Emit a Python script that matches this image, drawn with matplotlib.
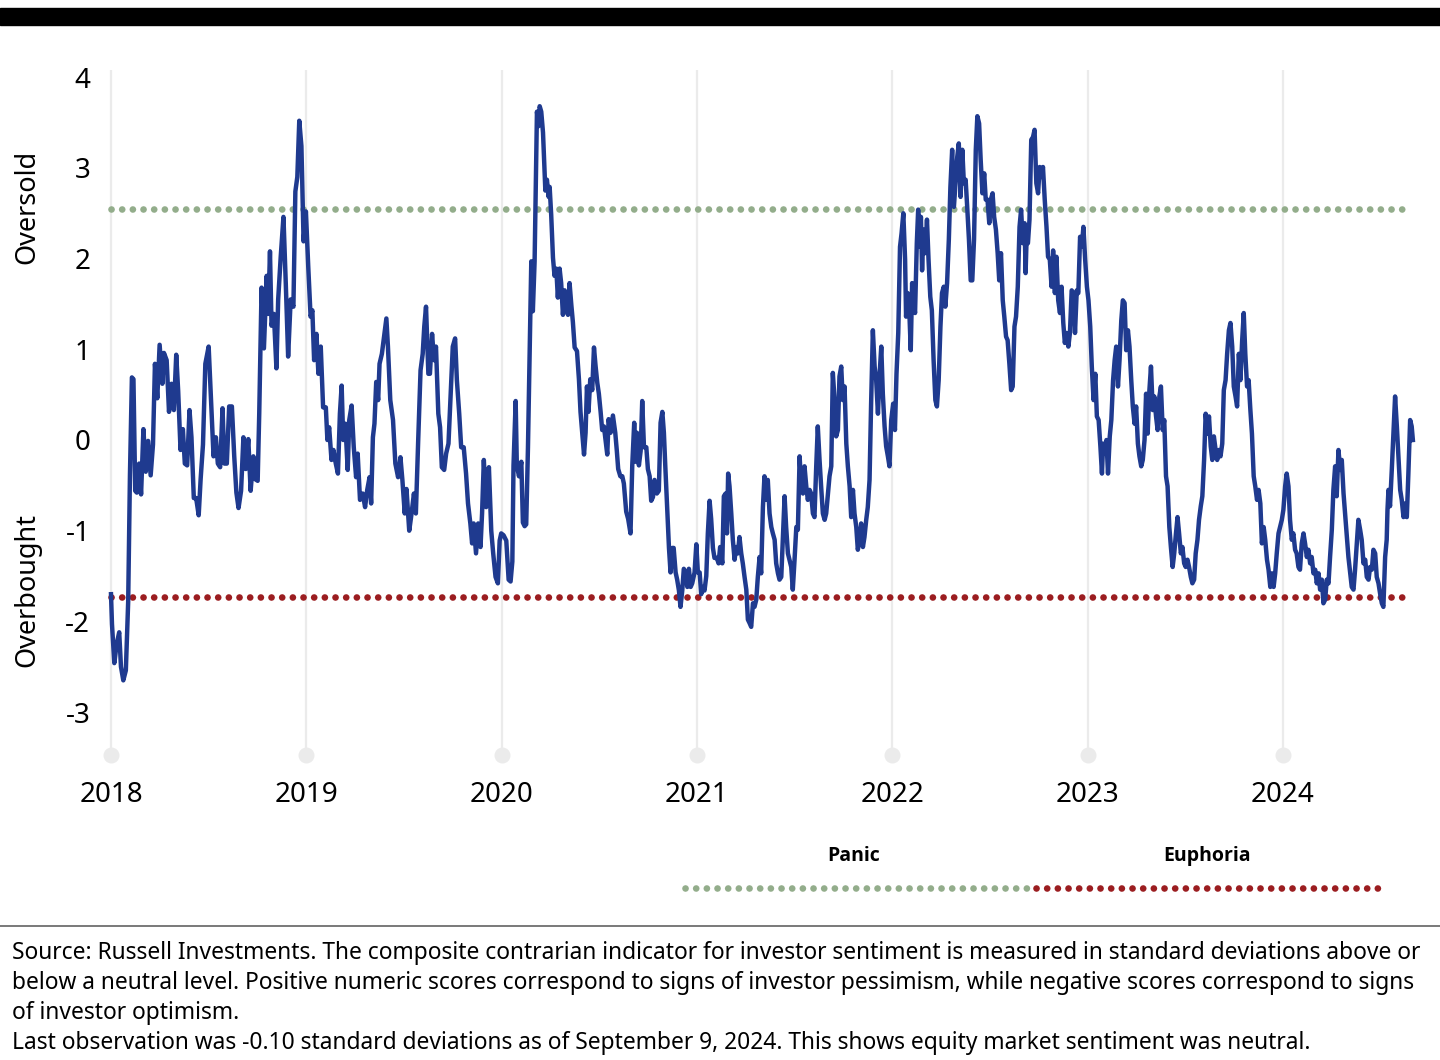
import numpy as np
import matplotlib
matplotlib.use("Agg")
import matplotlib.pyplot as plt
from matplotlib.lines import Line2D
from matplotlib.patches import Rectangle

plt.rcParams['font.family'] = ['Noto Sans', 'DejaVu Sans']

# Composite contrarian indicator as (fraction of year, score)
s2018 = [(0.000, -1.70), (0.005, -2.03), (0.017, -2.46), (0.029, -2.25), (0.042, -2.12), (0.051, -2.50),
         (0.063, -2.65), (0.076, -2.54), (0.088, -1.78), (0.097, -0.39), (0.107, 0.69), (0.115, 0.67),
         (0.124, -0.56), (0.132, -0.58), (0.144, -0.26), (0.154, -0.60), (0.166, 0.12), (0.178, -0.35),
         (0.190, -0.01), (0.203, -0.39), (0.215, -0.05), (0.225, 0.84), (0.237, 0.46), (0.249, 1.05),
         (0.263, 0.62), (0.271, 0.96), (0.285, 0.88), (0.297, 0.31), (0.310, 0.62), (0.322, 0.33),
         (0.334, 0.94), (0.344, 0.54), (0.356, -0.11), (0.368, 0.12), (0.378, -0.26), (0.390, -0.28),
         (0.402, 0.33), (0.412, 0.03), (0.424, -0.64), (0.436, -0.64), (0.449, -0.83), (0.459, -0.43),
         (0.471, -0.05), (0.483, 0.84), (0.500, 1.03), (0.512, 0.46), (0.525, -0.18), (0.537, 0.03),
         (0.547, -0.26), (0.559, -0.30), (0.571, 0.35), (0.581, -0.26), (0.593, -0.26), (0.605, 0.37),
         (0.619, 0.37), (0.631, -0.18), (0.642, -0.58), (0.653, -0.75), (0.666, -0.56), (0.678, 0.03),
         (0.690, -0.32), (0.703, 0.01), (0.715, -0.56), (0.729, -0.18), (0.737, -0.43), (0.751, -0.45),
         (0.759, 0.29), (0.771, 1.68), (0.783, 1.01), (0.797, 1.81), (0.805, 1.39), (0.814, 2.08),
         (0.822, 1.26), (0.834, 1.39), (0.847, 0.79), (0.856, 1.55), (0.869, 2.02), (0.883, 2.46),
         (0.895, 1.72), (0.907, 0.92), (0.920, 1.55), (0.934, 1.47), (0.944, 2.74), (0.954, 2.90),
         (0.964, 3.52), (0.975, 3.24), (0.986, 2.19), (0.998, 2.52)]

s2019 = [(0.010, 1.91), (0.022, 1.36), (0.031, 1.43), (0.040, 0.88), (0.052, 1.17), (0.062, 0.73),
         (0.074, 1.03), (0.086, 0.36), (0.100, 0.36), (0.108, 0.00), (0.117, 0.14), (0.129, -0.22),
         (0.139, -0.11), (0.151, -0.26), (0.162, -0.37), (0.172, 0.29), (0.181, 0.60), (0.189, 0.00),
         (0.200, 0.18), (0.212, -0.33), (0.220, 0.22), (0.232, 0.38), (0.243, -0.08), (0.255, -0.41),
         (0.263, -0.15), (0.275, -0.66), (0.289, -0.59), (0.301, -0.74), (0.312, -0.55), (0.324, -0.41),
         (0.332, -0.70), (0.341, 0.03), (0.349, 0.18), (0.358, 0.64), (0.368, 0.44), (0.375, 0.84),
         (0.387, 0.95), (0.398, 1.14), (0.410, 1.34), (0.418, 1.03), (0.430, 0.44), (0.444, 0.22),
         (0.456, -0.26), (0.470, -0.41), (0.482, -0.19), (0.492, -0.44), (0.504, -0.81), (0.513, -0.54),
         (0.527, -1.00), (0.539, -0.81), (0.551, -0.59), (0.561, -0.81), (0.573, 0.00), (0.585, 0.77),
         (0.596, 0.95), (0.604, 1.25), (0.613, 1.47), (0.625, 0.73), (0.633, 0.73), (0.644, 1.17),
         (0.654, 0.88), (0.664, 1.03), (0.676, 0.29), (0.685, 0.14), (0.694, -0.30), (0.706, -0.33),
         (0.716, -0.15), (0.728, -0.04), (0.740, 0.55), (0.750, 1.03), (0.762, 1.12), (0.771, 0.66),
         (0.783, 0.29), (0.793, -0.08), (0.806, -0.08), (0.818, -0.37), (0.828, -0.70), (0.840, -0.92),
         (0.849, -1.14), (0.857, -0.92), (0.869, -1.25), (0.880, -0.92), (0.892, -1.18), (0.900, -0.81),
         (0.909, -0.22), (0.921, -0.74), (0.935, -0.30), (0.947, -1.00), (0.957, -1.25), (0.969, -1.51),
         (0.981, -1.58), (0.990, -1.11), (0.998, -1.03)]

s2020 = [(0.010, -1.05), (0.024, -1.11), (0.036, -1.54), (0.046, -1.56), (0.055, -1.34), (0.061, -0.28),
         (0.072, 0.43), (0.078, -0.28), (0.089, -0.40), (0.101, -0.24), (0.109, -0.91), (0.118, -0.95),
         (0.126, -0.93), (0.135, -0.08), (0.143, 0.90), (0.152, 1.97), (0.160, 1.42), (0.169, 1.97),
         (0.174, 2.68), (0.181, 3.62), (0.189, 3.46), (0.195, 3.68), (0.203, 3.62), (0.212, 3.39),
         (0.218, 3.07), (0.224, 2.75), (0.232, 2.87), (0.241, 2.68), (0.246, 2.79), (0.254, 2.48),
         (0.263, 2.01), (0.271, 1.81), (0.280, 1.89), (0.288, 1.57), (0.297, 1.89), (0.305, 1.73),
         (0.314, 1.38), (0.323, 1.65), (0.331, 1.49), (0.340, 1.38), (0.348, 1.73), (0.357, 1.49),
         (0.365, 1.30), (0.374, 1.02), (0.386, 0.98), (0.396, 0.67), (0.404, 0.31), (0.413, 0.08),
         (0.422, -0.16), (0.430, 0.08), (0.437, 0.59), (0.445, 0.31), (0.454, 0.67), (0.464, 0.55),
         (0.473, 1.02), (0.481, 0.82), (0.490, 0.63), (0.498, 0.51), (0.507, 0.31), (0.515, 0.11),
         (0.524, 0.15), (0.532, 0.00), (0.541, -0.16), (0.548, 0.23), (0.558, 0.08), (0.570, 0.27),
         (0.582, 0.08), (0.590, -0.12), (0.597, -0.32), (0.608, -0.40), (0.618, -0.40), (0.626, -0.48),
         (0.638, -0.79), (0.648, -0.87), (0.660, -1.03), (0.669, -0.28), (0.679, 0.19), (0.686, -0.24),
         (0.693, 0.08), (0.703, -0.28), (0.712, -0.12), (0.720, 0.43), (0.729, -0.08), (0.741, -0.08),
         (0.749, -0.32), (0.758, -0.40), (0.766, -0.67), (0.775, -0.63), (0.783, -0.44), (0.795, -0.59),
         (0.805, -0.56), (0.814, 0.19), (0.823, 0.31), (0.831, 0.08), (0.838, -0.28), (0.848, -0.75),
         (0.857, -1.19), (0.865, -1.46), (0.874, -1.19), (0.881, -1.19), (0.891, -1.46), (0.899, -1.54),
         (0.908, -1.66), (0.916, -1.84), (0.925, -1.66), (0.933, -1.42), (0.942, -1.46), (0.951, -1.62),
         (0.959, -1.42), (0.968, -1.62), (0.976, -1.58), (0.988, -1.46), (0.997, -1.15)]

s2021 = [(0.005, -1.46), (0.014, -1.46), (0.022, -1.70), (0.031, -1.62), (0.039, -1.66), (0.048, -1.50),
         (0.056, -1.03), (0.065, -0.67), (0.073, -0.87), (0.082, -1.19), (0.090, -1.30), (0.102, -1.30),
         (0.111, -1.36), (0.119, -1.18), (0.130, -1.36), (0.138, -0.62), (0.147, -0.59), (0.154, -1.03),
         (0.160, -0.37), (0.167, -0.51), (0.176, -0.81), (0.184, -1.10), (0.193, -1.32), (0.201, -1.18),
         (0.210, -1.25), (0.218, -1.07), (0.227, -1.25), (0.235, -1.36), (0.244, -1.51), (0.253, -1.65),
         (0.261, -1.98), (0.270, -2.02), (0.278, -2.06), (0.287, -1.80), (0.295, -1.84), (0.304, -1.76),
         (0.312, -1.51), (0.321, -1.29), (0.329, -1.47), (0.338, -0.74), (0.346, -0.40), (0.355, -0.66),
         (0.363, -0.44), (0.372, -0.81), (0.381, -0.96), (0.389, -1.03), (0.398, -1.10), (0.406, -1.36),
         (0.415, -1.47), (0.423, -1.54), (0.432, -1.51), (0.440, -1.10), (0.449, -0.62), (0.457, -0.96),
         (0.466, -1.25), (0.474, -1.32), (0.483, -1.40), (0.491, -1.65), (0.500, -1.32), (0.509, -0.96),
         (0.517, -0.99), (0.526, -0.18), (0.534, -0.51), (0.543, -0.59), (0.551, -0.29), (0.560, -0.51),
         (0.568, -0.66), (0.577, -0.55), (0.585, -0.59), (0.594, -0.81), (0.602, -0.85), (0.611, -0.29),
         (0.619, 0.15), (0.628, -0.22), (0.636, -0.51), (0.645, -0.81), (0.654, -0.88), (0.662, -0.81),
         (0.671, -0.59), (0.679, -0.40), (0.688, -0.29), (0.696, 0.74), (0.705, 0.44), (0.713, 0.04),
         (0.722, 0.11), (0.730, 0.70), (0.739, 0.81), (0.747, 0.44), (0.756, 0.59), (0.765, -0.04),
         (0.773, -0.29), (0.782, -0.51), (0.790, -0.85), (0.799, -0.55), (0.807, -0.81), (0.816, -0.96),
         (0.824, -1.21), (0.833, -1.10), (0.841, -0.92), (0.850, -1.18), (0.858, -1.07), (0.867, -0.88),
         (0.875, -0.74), (0.884, -0.44), (0.892, 0.40), (0.901, 1.21), (0.910, 0.81), (0.918, 0.66),
         (0.927, 0.29), (0.935, 0.70), (0.944, 1.03), (0.952, 0.51), (0.961, 0.15), (0.969, -0.07),
         (0.978, -0.18), (0.986, -0.29), (0.995, 0.22)]

s2022 = [(0.005, 0.40), (0.014, 0.11), (0.022, 0.73), (0.031, 1.18), (0.040, 2.13), (0.048, 2.28),
         (0.057, 2.50), (0.066, 1.99), (0.071, 1.36), (0.079, 1.62), (0.088, 1.40), (0.095, 0.99),
         (0.102, 1.73), (0.109, 1.54), (0.117, 1.40), (0.126, 2.17), (0.133, 2.54), (0.140, 2.13),
         (0.147, 2.46), (0.153, 1.87), (0.160, 2.32), (0.169, 2.06), (0.178, 2.43), (0.186, 1.99),
         (0.195, 1.58), (0.203, 1.43), (0.212, 0.88), (0.221, 0.44), (0.229, 0.37), (0.238, 0.66),
         (0.247, 1.25), (0.255, 1.62), (0.264, 1.69), (0.272, 1.47), (0.281, 1.73), (0.290, 2.21),
         (0.298, 2.79), (0.307, 3.20), (0.316, 2.57), (0.324, 2.83), (0.333, 3.12), (0.341, 3.27),
         (0.350, 2.68), (0.359, 3.20), (0.367, 2.83), (0.376, 2.87), (0.384, 2.57), (0.393, 2.21),
         (0.402, 1.76), (0.410, 1.76), (0.419, 2.21), (0.428, 3.20), (0.436, 3.57), (0.445, 3.49),
         (0.453, 3.09), (0.462, 2.72), (0.471, 2.94), (0.479, 2.65), (0.488, 2.65), (0.497, 2.39),
         (0.505, 2.65), (0.514, 2.72), (0.522, 2.46), (0.531, 2.32), (0.540, 2.06), (0.548, 1.76),
         (0.557, 2.06), (0.566, 1.54), (0.574, 1.36), (0.583, 1.14), (0.591, 1.10), (0.600, 0.84),
         (0.609, 0.55), (0.617, 0.59), (0.626, 1.25), (0.634, 1.36), (0.643, 1.69), (0.652, 2.35),
         (0.660, 2.54), (0.669, 2.17), (0.678, 2.39), (0.683, 1.84), (0.688, 2.21), (0.695, 2.17),
         (0.703, 2.43), (0.712, 3.31), (0.721, 3.34), (0.729, 3.42), (0.738, 2.83), (0.747, 2.72),
         (0.755, 3.01), (0.764, 2.90), (0.772, 3.01), (0.781, 2.65), (0.790, 2.35), (0.798, 2.02),
         (0.807, 1.99), (0.816, 1.69), (0.824, 2.09), (0.833, 1.62), (0.841, 2.02), (0.850, 1.54),
         (0.859, 1.40), (0.867, 1.69), (0.876, 1.29), (0.884, 1.07), (0.893, 1.18), (0.902, 1.03),
         (0.910, 1.18), (0.919, 1.65), (0.928, 1.62), (0.936, 1.18), (0.945, 1.65), (0.953, 1.62),
         (0.962, 2.24), (0.971, 2.13), (0.979, 2.35), (0.988, 1.99), (0.997, 1.69)]

s2023 = [(0.005, 1.54), (0.014, 1.25), (0.022, 0.81), (0.031, 0.44), (0.040, 0.73), (0.048, 0.26),
         (0.057, 0.22), (0.066, -0.07), (0.074, -0.37), (0.080, -0.04), (0.088, -0.15), (0.097, 0.00),
         (0.105, -0.37), (0.114, 0.04), (0.122, 0.22), (0.131, 0.66), (0.139, 0.88), (0.147, 1.03),
         (0.156, 0.59), (0.164, 0.88), (0.173, 1.32), (0.181, 1.54), (0.190, 1.51), (0.198, 0.99),
         (0.207, 1.21), (0.215, 1.03), (0.224, 0.66), (0.232, 0.37), (0.241, 0.18), (0.249, 0.37),
         (0.258, -0.04), (0.266, -0.18), (0.275, -0.29), (0.283, -0.22), (0.292, 0.00), (0.300, 0.51),
         (0.308, 0.07), (0.317, 0.55), (0.325, 0.81), (0.334, 0.33), (0.342, 0.48), (0.351, 0.26),
         (0.359, 0.11), (0.368, 0.48), (0.376, 0.59), (0.385, 0.11), (0.393, 0.22), (0.402, -0.40),
         (0.410, -0.51), (0.419, -0.96), (0.427, -1.18), (0.436, -1.40), (0.444, -1.25), (0.453, -1.03),
         (0.461, -0.85), (0.469, -1.03), (0.478, -1.25), (0.486, -1.18), (0.495, -1.36), (0.503, -1.40),
         (0.512, -1.32), (0.520, -1.40), (0.529, -1.51), (0.537, -1.58), (0.546, -1.54), (0.554, -1.25),
         (0.563, -1.10), (0.571, -0.88), (0.580, -0.73), (0.588, -0.62), (0.597, -0.22), (0.605, 0.29),
         (0.614, 0.07), (0.622, 0.26), (0.631, -0.07), (0.639, -0.22), (0.647, 0.04), (0.656, -0.11),
         (0.664, -0.22), (0.673, -0.11), (0.681, -0.18), (0.690, -0.04), (0.698, 0.55), (0.707, 0.66),
         (0.715, 0.95), (0.724, 1.21), (0.732, 1.29), (0.741, 1.03), (0.749, 0.59), (0.758, 0.48),
         (0.766, 0.37), (0.775, 0.95), (0.783, 0.66), (0.792, 1.10), (0.800, 1.40), (0.808, 0.95),
         (0.817, 0.59), (0.825, 0.66), (0.834, 0.33), (0.842, 0.07), (0.851, -0.40), (0.859, -0.51),
         (0.868, -0.66), (0.876, -0.55), (0.885, -0.70), (0.893, -1.14), (0.902, -0.96), (0.910, -1.10),
         (0.919, -1.32), (0.927, -1.43), (0.936, -1.62), (0.944, -1.47), (0.953, -1.62), (0.961, -1.47),
         (0.969, -1.25), (0.978, -1.03), (0.986, -0.96), (0.995, -0.88)]

s2024 = [(0.003, -0.77), (0.012, -0.51), (0.020, -0.37), (0.029, -0.51), (0.037, -0.88), (0.046, -1.10),
         (0.054, -1.03), (0.063, -1.21), (0.071, -1.25), (0.080, -1.40), (0.088, -1.43), (0.097, -1.14),
         (0.106, -1.03), (0.114, -1.14), (0.123, -1.29), (0.131, -1.21), (0.140, -1.36), (0.148, -1.29),
         (0.157, -1.47), (0.166, -1.43), (0.174, -1.58), (0.183, -1.47), (0.191, -1.65), (0.200, -1.54),
         (0.208, -1.80), (0.217, -1.76), (0.225, -1.54), (0.234, -1.58), (0.242, -1.29), (0.251, -0.99),
         (0.259, -0.55), (0.268, -0.29), (0.276, -0.62), (0.285, -0.11), (0.294, -0.33), (0.302, -0.22),
         (0.311, -0.59), (0.319, -0.81), (0.328, -1.07), (0.336, -1.29), (0.345, -1.47), (0.353, -1.62),
         (0.362, -1.65), (0.370, -1.43), (0.379, -1.14), (0.387, -0.88), (0.396, -0.99), (0.404, -1.10),
         (0.413, -1.36), (0.422, -1.32), (0.430, -1.51), (0.439, -1.54), (0.447, -1.40), (0.456, -1.43),
         (0.464, -1.21), (0.473, -1.25), (0.481, -1.51), (0.490, -1.58), (0.498, -1.69), (0.507, -1.80),
         (0.515, -1.84), (0.524, -1.29), (0.532, -1.10), (0.536, -0.77), (0.541, -0.55), (0.549, -0.73),
         (0.558, -0.33), (0.567, 0.11), (0.575, 0.48), (0.584, 0.15), (0.592, -0.18), (0.601, -0.55),
         (0.609, -0.66), (0.618, -0.85), (0.626, -0.70), (0.635, -0.85), (0.643, -0.37), (0.652, 0.22),
         (0.660, 0.15), (0.666, 0.00)]

years = [2018, 2019, 2020, 2021, 2022, 2023, 2024]
year_labels = ['2018', '2019', '2020', '2021', '2022', '2023', '2024']
y_ticks = [-3, -2, -1, 0, 1, 2, 3, 4]
panic_level = 2.55      # "Oversold" threshold
euphoria_level = -1.73  # "Overbought" threshold

footer_lines = [
    "Source: Russell Investments. The composite contrarian indicator for investor sentiment is measured in standard deviations above or",
    "below a neutral level. Positive numeric scores correspond to signs of investor pessimism, while negative scores correspond to signs",
    "of investor optimism.",
    "Last observation was -0.10 standard deviations as of September 9, 2024. This shows equity market sentiment was neutral.",
]

# Build the series
t = []
score = []
for yr, seg in zip(years, [s2018, s2019, s2020, s2021, s2022, s2023, s2024]):
    for frac, v in seg:
        t.append(yr + frac)
        score.append(v)
t = np.array(t)
score = np.array(score)

blue = '#1f3a8f'
green = '#93ad8b'
red = '#9b1d20'
grid_col = '#ebebeb'

fig = plt.figure(figsize=(14.4, 10.6), dpi=100)
ax = fig.add_axes([100 / 1440, 1 - 760 / 1060, 1320 / 1440, 695 / 1060])

ax.set_xlim(2018 - 11 / 195.3, 2018 + 1309 / 195.3)
ax.set_ylim((440 - 760) / 90.7, (440 - 65) / 90.7)

# vertical year gridlines ending in a dot
grid_lo, grid_hi = -3.47, 4.08
ax.vlines(years, grid_lo, grid_hi, color=grid_col, lw=1.6, zorder=1)
ax.scatter(years, [grid_lo] * len(years), s=110, color=grid_col, zorder=1, clip_on=False)

# threshold dotted lines
dot_kw = dict(lw=4.8, dashes=(0.01, 1.59), dash_capstyle='round', zorder=2)
ax.plot([t[0], t[-1] - 0.02], [panic_level, panic_level], color=green, **dot_kw)
ax.plot([t[0], t[-1] - 0.02], [euphoria_level, euphoria_level], color=red, **dot_kw)

ax.plot(t, score, color=blue, lw=3.2, solid_joinstyle='round', zorder=3)

for s in ax.spines.values():
    s.set_visible(False)
ax.set_xticks(years)
ax.set_xticklabels(year_labels)
ax.set_yticks(y_ticks)
ax.set_yticklabels([str(v) for v in y_ticks])
ax.tick_params(axis='x', length=0, pad=15, labelsize=20)
ax.tick_params(axis='y', length=0, pad=7, labelsize=20)

fig.text(27 / 1440, 1 - 207 / 1060, 'Oversold', rotation=90, ha='center', va='center', fontsize=19.5)
fig.text(27 / 1440, 1 - 590 / 1060, 'Overbought', rotation=90, ha='center', va='center', fontsize=19.5)

# legend below the chart
bold_font = ['Open Sans', 'Liberation Sans', 'DejaVu Sans']
fig.text(854 / 1440, 1 - 856 / 1060, 'Panic', ha='center', va='center', fontsize=14,
         fontweight='bold', family=bold_font)
fig.text(1207 / 1440, 1 - 856 / 1060, 'Euphoria', ha='center', va='center', fontsize=14,
         fontweight='bold', family=bold_font)
ly = 1 - 888 / 1060
fig.add_artist(Line2D([685 / 1440, 1030 / 1440], [ly, ly], color=green, transform=fig.transFigure, **dot_kw))
fig.add_artist(Line2D([1036 / 1440, 1380 / 1440], [ly, ly], color=red, transform=fig.transFigure, **dot_kw))

# top black bar and footer separator
fig.add_artist(Rectangle((0, 1 - 25 / 1060), 1, 17 / 1060, color='black', transform=fig.transFigure))
sep_y = 1 - 926 / 1060
fig.add_artist(Line2D([0, 1], [sep_y, sep_y], color='#555555', lw=1.1, transform=fig.transFigure))

for i, line in enumerate(footer_lines):
    fig.text(12 / 1440, 1 - (953 + 30 * i) / 1060, line, ha='left', va='center', fontsize=16.4)

fig.savefig('out.png', dpi=100)
